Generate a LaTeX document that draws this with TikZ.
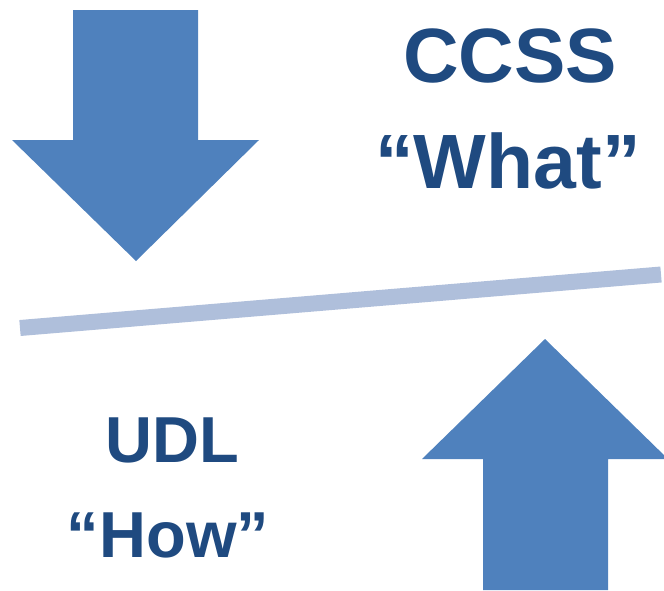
\documentclass[tikz,border=0pt]{standalone}
\usepackage{fontspec}
\setmainfont{Liberation Sans}
\definecolor{arrowblue}{HTML}{4F81BD}
\definecolor{barblue}{HTML}{AFBFDB}
\definecolor{textblue}{HTML}{1F4A80}
\tikzset{
  bigarrow/.style={fill=arrowblue, draw=none},
  bigword/.style={text=textblue, font=\bfseries\fontsize{77}{80}\selectfont, anchor=base, inner sep=0pt},
  smallword/.style={text=textblue, font=\bfseries\fontsize{65}{68}\selectfont, anchor=base, inner sep=0pt}
}
\begin{document}
\begin{tikzpicture}[x=1pt, y=-1pt]
    \useasboundingbox (0,0) rectangle (664,590);

    % arrow pointing down
    \fill[bigarrow] (73,10) -- (198,10) -- (198,140) -- (259,140) -- (136,261) -- (12,140) -- (73,140) -- cycle;

    % arrow pointing up
    \fill[bigarrow] (483,590) -- (483,459) -- (422,459) -- (545,339) -- (668,459) -- (608,459) -- (608,590) -- cycle;

    % divider
    \coordinate (barleft) at (20,328);
    \coordinate (barright) at (661,274.5);
    \draw[barblue, line width=16pt] (barleft) -- (barright);

    \node[bigword] (ccss) at (510,82) {CCSS};
    \node[bigword] (what) at (508,188) {“What”};
    \node[smallword] (udl) at (172,462) {UDL};
    \node[smallword] (how) at (168,557) {“How”};
\end{tikzpicture}
\end{document}
